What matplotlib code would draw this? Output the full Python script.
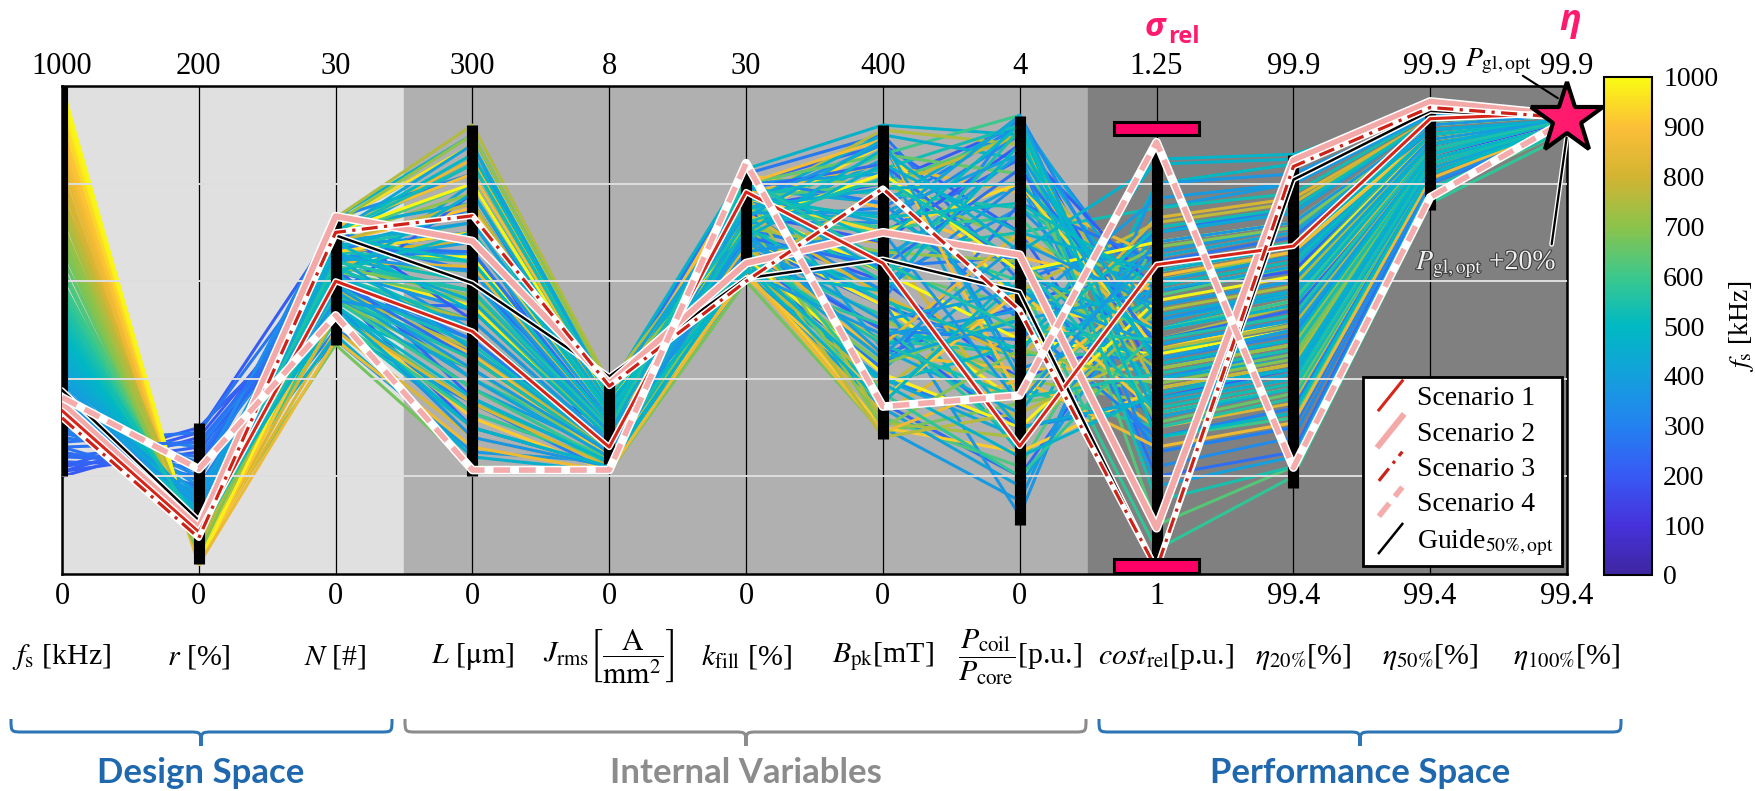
import numpy as np
import matplotlib
matplotlib.use("Agg")
import matplotlib.pyplot as plt
import matplotlib.patheffects as pe
from matplotlib.colors import LinearSegmentedColormap, Normalize
from matplotlib.collections import LineCollection
from matplotlib.legend_handler import HandlerLine2D
from matplotlib.lines import Line2D
from matplotlib.path import Path
from matplotlib.patches import PathPatch, Rectangle

plt.rcParams['font.family'] = ['Liberation Serif', 'DejaVu Serif']
plt.rcParams['mathtext.fontset'] = 'stix'

# axis labels
top_labels = ['1000', '200', '30', '300', '8', '30', '400', '4', '1.25', '99.9', '99.9', '99.9']
bottom_labels = ['0', '0', '0', '0', '0', '0', '0', '0', '1', '99.4', '99.4', '99.4']
axis_names = [r'$f_\mathrm{s}$ [kHz]', r'$r$ [%]', r'$N$ [#]', r'$L$ [$\mathrm{\mu m}$]',
              r'$J_\mathrm{rms}\left[\dfrac{\mathrm{A}}{\mathrm{mm}^2}\right]$',
              r'$k_\mathrm{fill}$ [%]', r'$B_\mathrm{pk}$[mT]',
              r'$\dfrac{P_\mathrm{coil}}{P_\mathrm{core}}$[p.u.]', r'$cost_\mathrm{rel}$[p.u.]',
              r'$\eta_{20\%}$[%]', r'$\eta_{50\%}$[%]', r'$\eta_{100\%}$[%]']

# background designs, normalised axis values in percent
# fs, r, N, L, J, k, B, P, cost, eta20, eta50, eta100
designs = [
    [20, 28, 62, 45, 30, 70, 60, 40, 50, 55, 85, 93],
    [21, 25, 66, 70, 26, 75, 80, 92, 40, 45, 88, 92],
    [22, 30, 58, 30, 22, 65, 45, 55, 65, 70, 90, 93],
    [23, 22, 70, 85, 35, 80, 88, 70, 30, 35, 82, 92],
    [24, 27, 55, 55, 28, 62, 35, 20, 60, 65, 92, 94],
    [25, 20, 68, 60, 32, 78, 70, 85, 20, 25, 80, 91],
    [26, 18, 60, 40, 24, 68, 55, 45, 45, 50, 87, 93],
    [28, 24, 64, 75, 37, 82, 90, 60, 70, 75, 93, 94],
    [30, 15, 50, 35, 21, 61, 40, 30, 35, 40, 84, 92],
    [32, 19, 72, 88, 33, 73, 75, 92, 55, 60, 89, 93],
    [35, 12, 66, 50, 27, 67, 50, 50, 42, 48, 86, 93],
    [38, 14, 48, 25, 23, 63, 30, 15, 75, 80, 94, 94],
    [40, 10, 70, 65, 31, 77, 65, 80, 25, 30, 81, 92],
    [42, 13, 60, 80, 36, 71, 85, 35, 62, 68, 90, 93],
    [45, 11, 56, 45, 25, 64, 42, 65, 38, 42, 85, 92],
    [47, 9, 73, 90, 38, 83, 92, 90, 50, 58, 88, 93],
    [50, 10, 62, 55, 29, 69, 58, 25, 80, 84, 95, 94],
    [52, 8, 52, 30, 22, 66, 36, 60, 33, 38, 83, 92],
    [55, 9, 67, 72, 34, 79, 78, 75, 58, 62, 90, 93],
    [57, 7, 58, 40, 26, 62, 48, 45, 45, 52, 86, 93],
    [60, 8, 71, 82, 37, 74, 86, 94, 28, 32, 82, 92],
    [62, 6, 54, 35, 24, 65, 32, 22, 68, 72, 92, 94],
    [65, 7, 64, 62, 30, 72, 62, 55, 52, 57, 88, 93],
    [67, 5, 47, 22, 21, 60, 29, 35, 40, 45, 84, 92],
    [70, 6, 69, 78, 35, 81, 80, 68, 60, 66, 91, 93],
    [72, 5, 61, 50, 27, 68, 52, 40, 35, 40, 85, 92],
    [75, 4, 73, 92, 39, 76, 91, 88, 48, 55, 88, 93],
    [77, 5, 57, 38, 23, 63, 38, 58, 72, 76, 93, 94],
    [80, 4, 66, 68, 32, 70, 68, 30, 55, 60, 89, 93],
    [82, 3, 50, 28, 22, 61, 33, 50, 30, 35, 83, 92],
    [85, 4, 70, 85, 36, 78, 84, 78, 65, 70, 91, 93],
    [87, 3, 59, 45, 25, 66, 45, 42, 42, 47, 86, 93],
    [90, 3, 68, 75, 34, 82, 75, 65, 58, 63, 90, 93],
    [92, 2, 54, 32, 21, 63, 30, 25, 38, 43, 85, 92],
    [95, 3, 72, 88, 38, 73, 88, 55, 50, 56, 88, 93],
    [97, 2, 62, 55, 28, 69, 55, 35, 62, 67, 90, 93],
    [100, 2, 65, 65, 31, 75, 62, 48, 45, 50, 87, 93],
    [33, 16, 63, 58, 30, 72, 72, 90, 22, 28, 80, 92],
    [36, 12, 59, 48, 26, 64, 60, 75, 48, 53, 87, 93],
    [39, 15, 67, 70, 33, 80, 82, 62, 66, 71, 91, 93],
    [43, 11, 55, 33, 23, 61, 40, 28, 55, 60, 89, 93],
    [46, 12, 69, 84, 36, 76, 90, 85, 35, 40, 84, 92],
    [49, 10, 53, 42, 24, 67, 47, 52, 44, 50, 86, 93],
    [53, 9, 65, 60, 29, 70, 66, 70, 75, 78, 94, 94],
    [56, 8, 61, 52, 27, 65, 53, 38, 30, 36, 83, 92],
    [44, 13, 71, 76, 35, 79, 76, 93, 52, 57, 88, 93],
    [41, 14, 57, 38, 25, 62, 34, 18, 60, 65, 90, 93],
    [34, 17, 65, 66, 31, 74, 58, 80, 40, 46, 86, 93],
    [29, 21, 69, 62, 29, 71, 63, 65, 25, 30, 81, 92],
    [31, 23, 60, 52, 27, 67, 50, 48, 70, 74, 93, 94],
    [58, 7, 63, 58, 30, 73, 70, 60, 5, 20, 76, 90],
    [48, 10, 58, 44, 25, 66, 50, 45, 85, 86, 95, 95],
    [63, 6, 66, 70, 33, 77, 80, 90, 10, 22, 78, 91],
    [37, 13, 62, 54, 28, 69, 56, 12, 80, 82, 94, 94],
    [21, 29, 71, 52, 27, 74, 68, 88, 58, 62, 91, 93],
    [22, 26, 57, 78, 34, 66, 50, 30, 36, 42, 84, 92],
    [24, 23, 63, 36, 23, 79, 84, 62, 48, 54, 87, 93],
    [27, 29, 67, 66, 31, 63, 42, 76, 64, 69, 92, 94],
    [30, 26, 61, 48, 26, 81, 76, 52, 28, 34, 82, 92],
    [33, 20, 73, 82, 36, 70, 56, 94, 44, 49, 86, 93],
    [36, 18, 55, 28, 22, 76, 88, 42, 52, 58, 89, 93],
    [40, 16, 68, 72, 33, 68, 64, 86, 18, 24, 79, 91],
    [43, 14, 64, 58, 29, 82, 46, 33, 70, 74, 93, 94],
    [46, 11, 49, 24, 21, 72, 74, 58, 40, 44, 85, 92],
    [50, 9, 70, 86, 37, 64, 39, 47, 56, 61, 89, 93],
    [53, 8, 59, 47, 26, 77, 83, 92, 34, 39, 84, 92],
    [56, 10, 66, 64, 31, 61, 51, 27, 63, 68, 91, 93],
    [59, 7, 52, 33, 23, 75, 71, 73, 46, 51, 87, 93],
    [62, 8, 69, 80, 36, 67, 34, 38, 57, 63, 90, 93],
    [65, 6, 62, 56, 28, 80, 86, 82, 31, 37, 83, 92],
    [68, 5, 56, 42, 24, 64, 43, 53, 67, 71, 92, 94],
    [71, 7, 72, 90, 38, 71, 66, 64, 42, 47, 86, 93],
    [74, 4, 60, 52, 27, 78, 31, 28, 54, 59, 89, 93],
    [78, 5, 68, 76, 34, 62, 79, 90, 38, 43, 85, 92],
    [81, 3, 53, 35, 22, 74, 57, 44, 73, 77, 93, 94],
    [84, 4, 64, 63, 30, 67, 47, 70, 50, 55, 87, 93],
    [88, 3, 71, 82, 36, 80, 89, 36, 61, 66, 90, 93],
    [91, 2, 57, 44, 24, 61, 36, 58, 33, 38, 84, 92],
    [94, 3, 66, 70, 32, 77, 70, 80, 46, 52, 87, 93],
    [98, 2, 60, 50, 26, 65, 41, 30, 56, 61, 89, 93],
    [99, 3, 70, 80, 35, 72, 82, 62, 68, 72, 92, 94],
    [86, 2, 48, 26, 21, 62, 29, 40, 26, 31, 81, 92],
    [76, 6, 58, 46, 25, 69, 28, 33, 46, 51, 86, 93],
    [69, 4, 63, 57, 28, 73, 30, 46, 39, 44, 85, 92],
    [54, 9, 67, 74, 33, 76, 60, 91, 15, 22, 79, 91],
    [47, 12, 61, 50, 27, 70, 87, 66, 84, 85, 95, 95],
    [38, 15, 65, 62, 30, 62, 49, 54, 77, 80, 94, 94],
    [42, 13, 70, 88, 37, 78, 72, 94, 32, 38, 83, 92],
    [58, 8, 56, 38, 23, 71, 37, 20, 50, 56, 88, 93],
    [26, 27, 60, 44, 25, 69, 63, 83, 47, 52, 87, 93],
    [40, 12, 64, 68, 32, 74, 74, 86, 44, 50, 86, 93],
    [42, 11, 58, 40, 24, 66, 44, 52, 58, 63, 90, 93],
    [44, 10, 66, 56, 29, 78, 62, 30, 36, 41, 84, 92],
    [46, 13, 61, 78, 35, 69, 84, 70, 62, 67, 91, 93],
    [48, 9, 55, 36, 23, 63, 35, 62, 50, 55, 88, 93],
    [50, 11, 69, 64, 31, 80, 68, 92, 28, 33, 82, 92],
    [52, 10, 63, 50, 27, 71, 56, 46, 71, 75, 93, 94],
    [54, 8, 57, 44, 25, 65, 47, 36, 41, 46, 85, 92],
    [45, 12, 67, 74, 34, 75, 79, 80, 53, 58, 88, 93],
    [41, 14, 60, 60, 29, 68, 52, 58, 47, 52, 87, 93],
    [43, 12, 65, 46, 26, 73, 89, 40, 65, 70, 91, 93],
    [47, 10, 54, 30, 22, 64, 39, 24, 37, 42, 85, 92],
    [51, 9, 62, 70, 33, 77, 73, 76, 59, 64, 90, 93],
    [49, 11, 68, 54, 28, 62, 58, 88, 43, 48, 86, 93],
    [39, 15, 59, 42, 25, 70, 45, 68, 55, 60, 89, 93],
    [55, 9, 64, 58, 30, 81, 64, 50, 48, 53, 87, 93],
    [37, 14, 56, 52, 27, 66, 70, 35, 68, 72, 92, 94],
    [53, 10, 70, 84, 36, 72, 81, 64, 33, 38, 84, 92],
]

# highlighted scenarios (normalised)
scenario1 = [0.335, 0.086, 0.60, 0.497, 0.26, 0.783, 0.637, 0.262, 0.634, 0.672, 0.933, 0.945]
scenario2 = [0.349, 0.095, 0.733, 0.682, 0.39, 0.637, 0.70, 0.654, 0.094, 0.848, 0.968, 0.94]
scenario3 = [0.32, 0.074, 0.70, 0.734, 0.385, 0.60, 0.79, 0.54, 0.01, 0.835, 0.956, 0.935]
scenario4 = [0.362, 0.215, 0.53, 0.213, 0.213, 0.842, 0.343, 0.366, 0.885, 0.218, 0.772, 0.93]
guide = [0.377, 0.11, 0.694, 0.596, 0.405, 0.606, 0.645, 0.578, 0.01, 0.808, 0.949, 0.935]

# feasible range bars per axis
bar_lo = [0.20, 0.02, 0.47, 0.20, 0.225, 0.637, 0.277, 0.10, 0.016, 0.176, 0.746]
bar_hi = [1.00, 0.31, 0.733, 0.92, 0.388, 0.825, 0.92, 0.939, 0.87, 0.859, 0.949]
star_value = 0.933

parula = LinearSegmentedColormap.from_list('parula', [
    (0.0, (62/255, 38/255, 160/255)), (0.1, (71/255, 50/255, 220/255)),
    (0.2, (55/255, 90/255, 245/255)), (0.3, (35/255, 130/255, 240/255)),
    (0.4, (20/255, 160/255, 220/255)), (0.5, (0/255, 185/255, 195/255)),
    (0.6, (60/255, 200/255, 140/255)), (0.7, (140/255, 195/255, 75/255)),
    (0.8, (210/255, 180/255, 50/255)), (0.9, (252/255, 190/255, 55/255)),
    (1.0, (249/255, 250/255, 20/255))])
norm = Normalize(0, 1000)

W, H = 1755, 791
fig = plt.figure(figsize=(W / 100, H / 100), dpi=100)
ax = fig.add_axes([62 / W, 1 - 574 / H, 1505 / W, 488 / H])
ax.set_xlim(0, 11)
ax.set_ylim(0, 1)
ax.set_xticks([])
ax.set_yticks([])
for s in ax.spines.values():
    s.set_linewidth(1.8)

ax.axvspan(0, 2.5, color='#e0e0e0', zorder=0)
ax.axvspan(2.5, 7.5, color='#b0b0b0', zorder=0)
ax.axvspan(7.5, 11, color='#808080', zorder=0)

xs = np.arange(12)
ax.vlines(xs, 0, 1, color='black', lw=0.9, zorder=1)

data = np.array(designs) / 100.0
segs = [np.column_stack([xs, row]) for row in data]
cols = parula(norm(np.array(designs)[:, 0] * 10))
ax.add_collection(LineCollection(segs, colors=cols, linewidths=2.2, zorder=2))

ax.hlines([0.2, 0.4, 0.6, 0.8], 0, 11, color='#dedede', lw=1.4, zorder=3)

ax.vlines(xs[:len(bar_lo)], bar_lo, bar_hi, color='black', lw=8, zorder=4)

# highlighted lines
styles = [
    (guide, 'black', '-', 1.8, 'Guide$_{50\\%,\\mathrm{opt}}$'),
    (scenario2, '#f4a9a9', '-', 4.3, 'Scenario 2'),
    (scenario1, '#d6261a', '-', 2.2, 'Scenario 1'),
    (scenario3, '#cc2218', (0, (5, 2, 1, 2)), 2.3, 'Scenario 3'),
    (scenario4, '#f4acac', (0, (3, 1.6)), 4.0, 'Scenario 4'),
]
handles = {}
for i, (vals, c, ls, lw, lab) in enumerate(styles):
    ax.plot(xs, vals, color='white', lw=lw + 2.2, solid_capstyle='round',
            solid_joinstyle='round', zorder=5 + i * 0.1)
    ln, = ax.plot(xs, vals, color=c, ls=ls, lw=lw, zorder=5.05 + i * 0.1, label=lab)
    handles[lab] = ln

# sigma_rel bounds
for y0 in (0.9, 0.003):
    ax.add_patch(Rectangle((8 - 0.31, y0), 0.62, 0.027, facecolor='#ff0066',
                           edgecolor='black', lw=2.2, zorder=7, clip_on=False))

ax.plot([11], [star_value], marker='*', ms=54, mfc='#ff1a6e', mec='black', mew=3,
        clip_on=False, zorder=10)

ax.annotate('', xy=(10.95, 0.972), xytext=(10.66, 1.024),
            arrowprops=dict(arrowstyle='-', color='black', lw=1.5), annotation_clip=False, zorder=9)
ax.text(10.5, 1.05, r'$P_\mathrm{gl,opt}$', ha='center', va='center', fontsize=20, clip_on=False)
ax.annotate('', xy=(11.0, 0.90), xytext=(10.885, 0.67),
            arrowprops=dict(arrowstyle='-', color='black', lw=1.6,
                            path_effects=[pe.Stroke(linewidth=3.5, foreground='white'), pe.Normal()]),
            annotation_clip=False, zorder=9)
ax.text(10.41, 0.635, r'$P_\mathrm{gl,opt}$ +20%', ha='center', va='center', fontsize=20,
        color='#f0f0f0', zorder=9,
        path_effects=[pe.withStroke(linewidth=1.6, foreground='#404040')])

for i in range(12):
    ax.text(i, 1.04, top_labels[i], ha='center', va='center', fontsize=22, clip_on=False)
    ax.text(i, -0.047, bottom_labels[i], ha='center', va='center', fontsize=22, clip_on=False)
    dx = 0.07 if i in (8, 9) else 0
    ax.text(i + dx, -0.17, axis_names[i], ha='center', va='center', fontsize=21.5, clip_on=False)


class DiagonalHandler(HandlerLine2D):
    def create_artists(self, legend, orig_handle, xdescent, ydescent, width, height, fontsize, trans):
        x0, y0 = -xdescent, -ydescent
        line = Line2D([x0 + width * 0.2, x0 + width * 0.85],
                      [y0 - height * 0.25, y0 + height * 1.25])
        self.update_prop(line, orig_handle, legend)
        line.set_transform(trans)
        return [line]


order = ['Scenario 1', 'Scenario 2', 'Scenario 3', 'Scenario 4', 'Guide$_{50\\%,\\mathrm{opt}}$']
leg = ax.legend([handles[k] for k in order], order, loc='lower right',
                bbox_to_anchor=(0.997, 0.016), fontsize=20, frameon=True, fancybox=False,
                framealpha=1, edgecolor='black', handlelength=1.3, handletextpad=0.35,
                labelspacing=0.36, borderpad=0.3, borderaxespad=0,
                handler_map={Line2D: DiagonalHandler()})
leg.get_frame().set_linewidth(2)
leg.set_zorder(12)

# colour bar
cax = fig.add_axes([1604 / W, 1 - 575 / H, 48 / W, 498 / H])
sm = plt.cm.ScalarMappable(norm=norm, cmap=parula)
cb = fig.colorbar(sm, cax=cax, ticks=np.arange(0, 1001, 100))
cb.ax.tick_params(length=0, labelsize=20, pad=8)
cb.outline.set_linewidth(1.5)
cb.set_label(r'$f_\mathrm{s}$ [kHz]', fontsize=20, labelpad=6)

# braces and group labels in pixel coordinates
ov = fig.add_axes([0, 0, 1, 1], facecolor='none')
ov.set_xlim(0, W)
ov.set_ylim(H, 0)
ov.axis('off')


def brace(x0, x1, xm, color):
    yt, ym, yb, r = 719, 732, 746, 12
    verts = [(x0, yt), (x0, ym), (x0, ym), (x0 + r, ym), (xm - r, ym),
             (xm, ym), (xm, ym), (xm, yb), (xm, ym), (xm, ym), (xm + r, ym),
             (x1 - r, ym), (x1, ym), (x1, ym), (x1, yt)]
    codes = [Path.MOVETO, Path.CURVE4, Path.CURVE4, Path.CURVE4, Path.LINETO,
             Path.CURVE4, Path.CURVE4, Path.CURVE4, Path.CURVE4, Path.CURVE4, Path.CURVE4,
             Path.LINETO, Path.CURVE4, Path.CURVE4, Path.CURVE4]
    ov.add_patch(PathPatch(Path(verts, codes), fill=False, edgecolor=color, lw=2.2))


brace(11, 392, 201, '#2e75b6')
brace(405, 1086, 746, '#8c8c8c')
brace(1099, 1621, 1360, '#2e75b6')
ov.text(201, 773, 'Design Space', ha='center', va='center', fontsize=25,
        fontweight='bold', family='Lato', color='#1f68ae')
ov.text(746, 773, 'Internal Variables', ha='center', va='center', fontsize=25,
        fontweight='bold', family='Lato', color='#8c8c8c')
ov.text(1360, 773, 'Performance Space', ha='center', va='center', fontsize=25,
        fontweight='bold', family='Lato', color='#1f68ae')

ov.text(1155, 27, 'σ', ha='center', va='center', fontsize=24, fontweight='bold',
        fontstyle='italic', family='Open Sans', color='#ff1a6e')
ov.text(1184, 37, 'rel', ha='center', va='center', fontsize=17, fontweight='bold',
        family='Open Sans', color='#ff1a6e')
ov.text(1570, 21, 'η', ha='center', va='center', fontsize=26, fontweight='bold',
        fontstyle='italic', family='Open Sans', color='#ff1a6e')

fig.savefig('out.png', dpi=100)
